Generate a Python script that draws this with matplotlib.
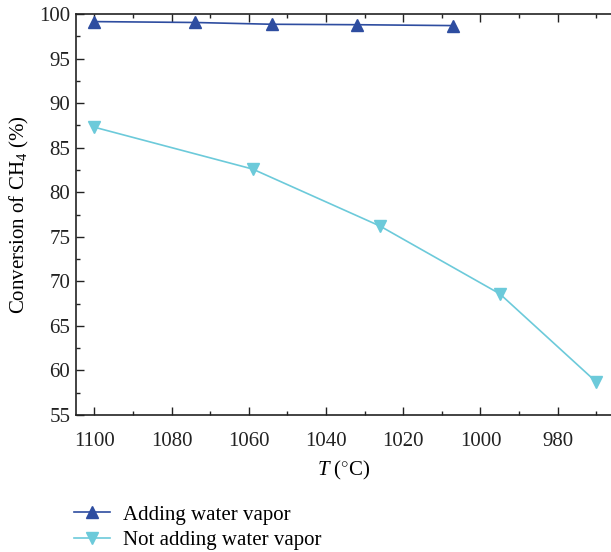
import matplotlib
matplotlib.use("Agg")
import matplotlib.pyplot as plt
from matplotlib.ticker import MultipleLocator

plt.rcParams['font.family'] = ['Liberation Serif', 'DejaVu Serif']
plt.rcParams['mathtext.fontset'] = 'custom'
plt.rcParams['mathtext.rm'] = 'Liberation Serif'
plt.rcParams['mathtext.it'] = 'Liberation Serif:italic'
plt.rcParams['mathtext.bf'] = 'Liberation Serif:bold'

# Data
t_water = [1100, 1074, 1054, 1032, 1007]
conv_water = [99.15, 99.05, 98.85, 98.8, 98.7]
t_nowater = [1100, 1059, 1026, 995, 970]
conv_nowater = [87.3, 82.6, 76.2, 68.6, 58.7]
labels = ["Adding water vapor", "Not adding water vapor"]

fig = plt.figure(figsize=(6.11, 5.52), dpi=100)
ax = fig.add_axes([0.124, 0.2482, 0.876, 0.7264])

l1, = ax.plot(t_water, conv_water, color='#2E4DA0', lw=1.2, marker='^',
              markersize=9, markeredgecolor='#2E4DA0', label=labels[0])
l2, = ax.plot(t_nowater, conv_nowater, color='#6CCADA', lw=1.2, marker='v',
              markersize=9, markeredgecolor='#6CCADA', label=labels[1])

ax.set_xlim(1104.8, 966.2)
ax.set_ylim(55, 100)
ax.xaxis.set_major_locator(MultipleLocator(20))
ax.xaxis.set_minor_locator(MultipleLocator(10))
ax.yaxis.set_major_locator(MultipleLocator(5))
ax.yaxis.set_minor_locator(MultipleLocator(2.5))

ax.spines['right'].set_visible(False)
for s in ['left', 'bottom', 'top']:
    ax.spines[s].set_linewidth(1.2)
    ax.spines[s].set_color('#222222')

ax.tick_params(which='both', direction='in', top=True, right=False,
               width=1.0, colors='#222222', labelsize=15)
ax.tick_params(which='major', length=6)
ax.tick_params(which='minor', length=3)
ax.tick_params(axis='x', which='both', labeltop=False, pad=12)
ax.tick_params(axis='y', which='both', pad=4)

ax.set_xlabel(r'$T$ ($^{\circ}$C)', fontsize=15, labelpad=6)
ax.set_ylabel(r'Conversion of CH$_4$ (%)', fontsize=15, labelpad=6)

fig.legend(handles=[l1, l2], labels=labels, loc='lower left',
           bbox_to_anchor=(0.121, 0.003), frameon=False, fontsize=15,
           handlelength=1.75, handletextpad=0.6, labelspacing=0.3,
           borderaxespad=0.0, borderpad=0.0)

fig.savefig('out.png', dpi=100)
